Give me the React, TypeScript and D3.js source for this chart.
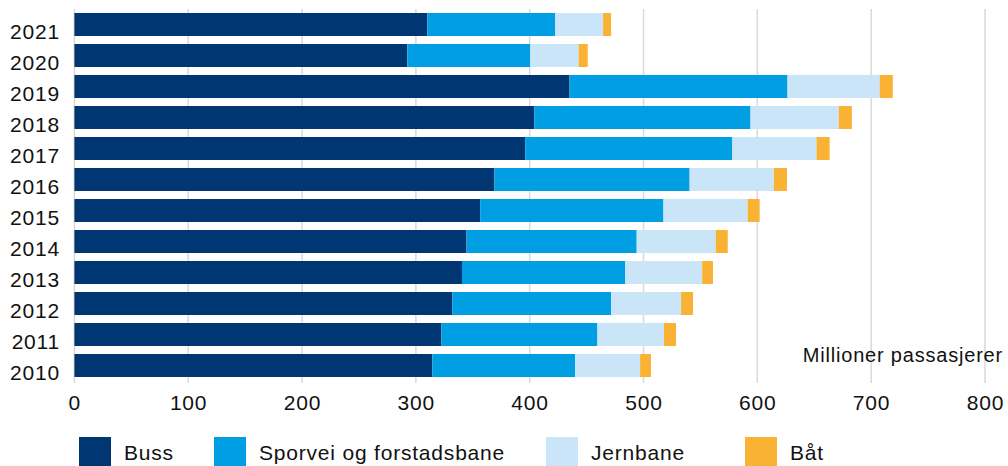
import React from "react";
import * as d3 from "d3";

const years = ["2021", "2020", "2019", "2018", "2017", "2016", "2015", "2014", "2013", "2012", "2011", "2010"];
const buss = [310, 292.5, 435, 404, 396, 369, 356.5, 344.5, 340.5, 332, 322.5, 314.5];
const sporvei = [112.5, 108, 191.5, 190, 182, 171.5, 161, 149.5, 143.5, 139.5, 137, 125.5];
const jernbane = [42, 42.5, 81, 77.5, 74, 74, 74, 69.5, 67.5, 61.5, 58.5, 57];
const baat = [7, 8, 11.5, 11.5, 11.5, 11.5, 10.5, 10.5, 9.5, 10.5, 10.5, 9.5];
const seriesNames = ["Buss", "Sporvei og forstadsbane", "Jernbane", "Båt"];
const colors = ["#003672", "#009FE3", "#C9E5F7", "#F9B233"];
const xTicks = [0, 100, 200, 300, 400, 500, 600, 700, 800];
const unitLabel = "Millioner passasjerer";

const W = 1008;
const H = 466;
const FONT = "'Liberation Sans', Arial, Helvetica, sans-serif";

export default function App() {
  const x = d3.scaleLinear().domain([0, 800]).range([74.4, 985]);
  const y = d3.scaleBand<string>().domain(years).range([9, 381]).paddingInner(8 / 31).paddingOuter(4 / 31);

  const rows = years.map((yr, i) => ({
    year: yr,
    Buss: buss[i],
    "Sporvei og forstadsbane": sporvei[i],
    Jernbane: jernbane[i],
    "Båt": baat[i],
  }));
  const stacked = d3.stack<any>().keys(seriesNames)(rows);

  const legendX = [79, 214, 546, 745];

  return (
    <svg width={W} height={H} style={{ position: "absolute", left: 0, top: 0, background: "#fff" }} fontFamily={FONT}>
      {xTicks.map((t) => (
        <line key={t} x1={x(t)} x2={x(t)} y1={9} y2={383} stroke="#d9d9d9" strokeWidth={1.5} />
      ))}
      {stacked.map((s, si) => (
        <g key={s.key} fill={colors[si]}>
          {s.map((d, i) => (
            <rect key={i} x={x(d[0])} y={y(years[i])} width={x(d[1]) - x(d[0])} height={y.bandwidth()} />
          ))}
        </g>
      ))}
      {years.map((yr) => (
        <text key={yr} x={60} y={(y(yr) as number) + y.bandwidth() / 2 + 7} dy="0.35em" textAnchor="end" fontSize={21} letterSpacing={0.8} fill="#111">
          {yr}
        </text>
      ))}
      {xTicks.map((t) => (
        <text key={t} x={x(t) + 0.4} y={403} dy="0.35em" textAnchor="middle" fontSize={21} letterSpacing={0.8} fill="#111">
          {t}
        </text>
      ))}
      <text x={1003} y={355} dy="0.35em" textAnchor="end" fontSize={20} letterSpacing={0.8} fill="#111">
        {unitLabel}
      </text>
      {seriesNames.map((n, i) => (
        <g key={n}>
          <rect x={legendX[i]} y={437} width={32} height={29} fill={colors[i]} />
          <text x={legendX[i] + 45} y={453} dy="0.35em" fontSize={21} letterSpacing={0.8} fill="#111">
            {n}
          </text>
        </g>
      ))}
    </svg>
  );
}
